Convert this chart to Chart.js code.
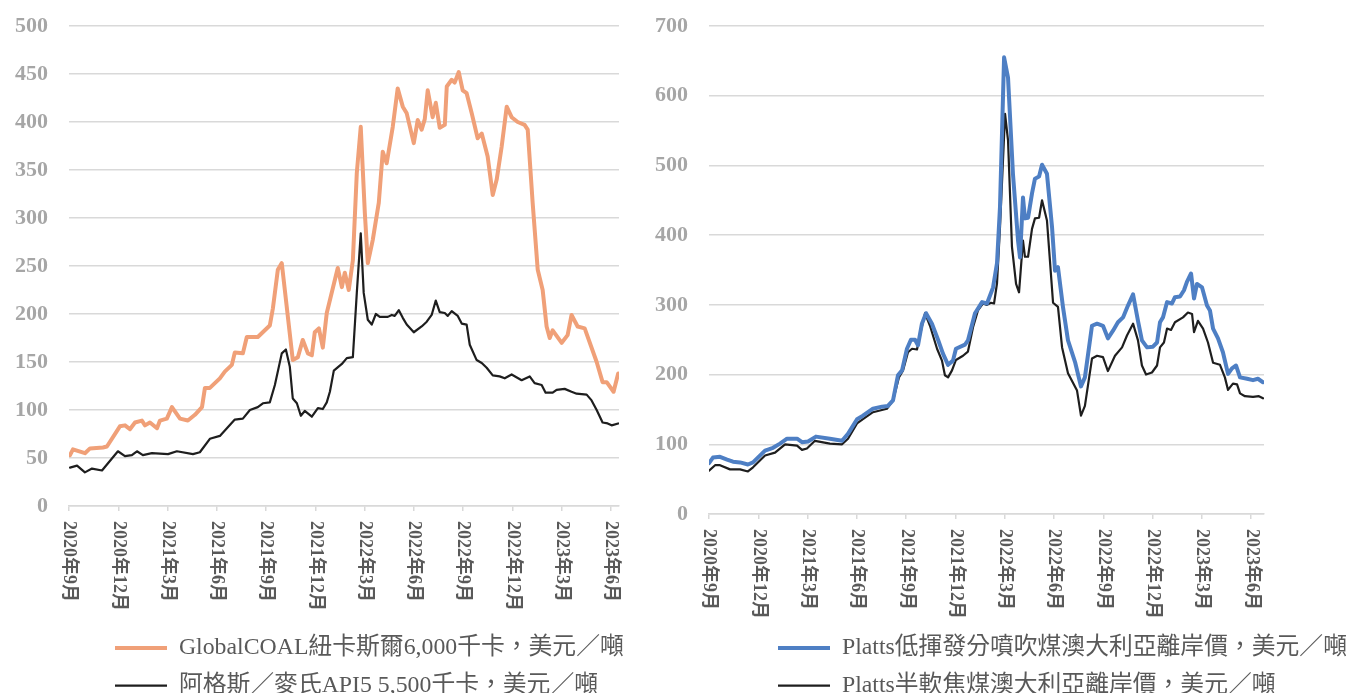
<!DOCTYPE html>
<html><head><meta charset="utf-8">
<script src="https://cdn.jsdelivr.net/npm/chart.js@4.4.1/dist/chart.umd.min.js"></script>
<style>
html,body{margin:0;padding:0;background:#fff;width:1349px;height:693px;overflow:hidden}
#cl{position:absolute;left:0;top:0}
#cr{position:absolute;left:640px;top:0}
</style></head><body>
<canvas id="cl" width="640" height="693"></canvas>
<canvas id="cr" width="709" height="693"></canvas>
<script>
// ---- data (x in months since Sep 2020) ----
const tickLabels = ['2020年9月','2020年12月','2021年3月','2021年6月','2021年9月','2021年12月','2022年3月','2022年6月','2022年9月','2022年12月','2023年3月','2023年6月'];
const tickMonths = [0,3,6,9,12,15,18,21,24,27,30,33];

const newcastleMonths = [0.06,0.24,0.97,1.28,2.07,2.31,3.10,3.41,3.71,4.02,4.44,4.63,4.93,5.36,5.54,5.96,6.27,6.76,7.24,7.67,8.10,8.28,8.58,9.19,9.49,9.92,10.10,10.59,10.83,11.50,12.23,12.42,12.72,12.96,13.63,13.94,14.24,14.55,14.79,14.97,15.22,15.46,15.70,16.37,16.62,16.80,17.04,17.29,17.53,17.77,18.02,18.20,18.50,18.87,19.11,19.35,19.72,20.02,20.33,20.57,21.00,21.24,21.48,21.67,21.85,22.15,22.34,22.58,22.89,23.01,23.31,23.49,23.74,23.98,24.22,24.53,24.89,25.14,25.50,25.81,26.05,26.35,26.66,26.96,27.33,27.75,27.94,28.24,28.55,28.85,29.09,29.28,29.46,30.01,30.37,30.61,30.98,31.41,32.14,32.50,32.75,33.17,33.45];
const newcastlePrices = [53,59,55,60,61,62,83,84,80,87,89,84,87,81,89,91,103,91,89,95,103,123,123,133,140,147,160,159,176,176,188,206,246,253,152,155,173,159,157,181,185,165,201,248,228,243,225,256,347,395,305,253,277,316,369,357,395,435,416,409,378,402,392,403,433,405,420,394,397,437,444,441,452,433,430,409,383,388,364,324,340,374,416,405,400,397,392,316,246,225,187,175,183,170,178,199,187,185,150,129,129,119,138];

const api5Months = [0.06,0.49,0.97,1.40,2.01,2.98,3.41,3.83,4.14,4.50,5.05,6.03,6.57,7.55,7.97,8.58,9.19,10.10,10.59,11.02,11.50,11.81,12.23,12.54,12.96,13.21,13.45,13.63,13.88,14.12,14.36,14.79,15.16,15.46,15.70,15.89,16.13,16.62,16.92,17.29,17.53,17.77,17.95,18.20,18.44,18.69,18.93,19.42,19.66,19.84,20.09,20.33,20.57,21.00,21.48,21.79,22.09,22.34,22.58,22.89,23.07,23.31,23.68,23.92,24.22,24.41,24.83,25.14,25.44,25.81,26.23,26.54,26.96,27.57,28.06,28.36,28.79,29.03,29.46,29.70,30.19,30.61,30.92,31.53,31.83,32.14,32.50,32.81,33.05,33.45];
const api5Prices = [40,42,35,39,37,57,52,53,57,53,55,54,57,54,56,70,73,90,91,100,103,107,108,126,159,163,145,112,107,94,99,93,102,101,108,119,141,148,154,155,222,284,222,194,189,200,197,197,199,198,204,196,189,181,187,192,199,214,202,201,198,203,198,190,189,168,152,149,144,136,135,133,137,131,135,128,126,118,118,121,122,119,117,116,110,100,87,86,84,86];

const pciMonths = [0.00,0.24,0.67,1.10,1.46,1.89,2.37,2.68,3.41,3.90,4.32,4.75,5.36,5.66,6.03,6.51,7.36,8.10,8.46,9.01,9.37,9.98,10.53,10.89,11.20,11.50,11.75,12.05,12.29,12.54,12.72,12.96,13.21,13.57,13.94,14.24,14.55,14.85,15.03,15.58,15.76,16.19,16.62,16.92,17.29,17.53,17.71,17.96,18.20,18.50,18.81,18.93,19.11,19.23,19.42,19.66,19.84,20.09,20.27,20.57,20.88,21.06,21.24,21.55,21.85,22.28,22.64,22.88,23.31,23.62,23.98,24.28,24.59,24.89,25.20,25.50,25.81,26.11,26.35,26.66,27.02,27.27,27.45,27.63,27.88,28.18,28.36,28.67,28.91,29.09,29.34,29.52,29.70,30.01,30.31,30.49,30.68,30.98,31.28,31.59,31.83,32.08,32.32,32.75,33.11,33.41,33.72];
const pciPrices = [73,81,82,78,75,74,71,74,91,95,101,108,108,103,104,111,108,105,115,136,141,151,154,155,163,199,206,237,250,250,242,273,288,273,250,230,214,220,237,243,249,288,304,302,325,360,440,655,626,488,392,368,454,424,425,460,481,484,501,488,411,349,354,296,249,218,183,196,270,273,270,252,263,275,282,299,315,277,249,239,240,246,275,282,304,302,311,312,321,333,345,309,330,325,299,292,266,252,232,201,209,213,196,194,192,194,189];

const semiMonths = [0.00,0.37,0.67,1.28,1.89,2.37,2.68,3.41,4.02,4.63,5.36,5.66,5.96,6.45,7.36,8.10,8.46,9.01,9.37,9.98,10.83,11.20,11.56,11.81,12.11,12.36,12.66,12.90,13.15,13.45,13.88,14.18,14.36,14.55,14.79,15.03,15.46,15.76,16.07,16.37,16.68,16.92,17.16,17.35,17.53,17.71,18.02,18.20,18.44,18.69,18.87,19.11,19.23,19.42,19.66,19.84,20.09,20.27,20.57,20.94,21.24,21.49,21.85,22.40,22.64,22.88,23.31,23.62,23.98,24.28,24.71,25.14,25.44,25.81,26.11,26.35,26.60,26.96,27.27,27.45,27.69,27.88,28.12,28.36,28.85,29.15,29.40,29.52,29.76,30.07,30.37,30.68,31.10,31.40,31.59,31.89,32.14,32.32,32.62,33.11,33.47,33.72];
const semiPrices = [62,70,70,64,64,61,67,84,88,100,98,92,94,105,101,100,108,130,136,146,151,163,196,206,232,237,236,263,288,270,237,220,199,196,206,221,227,233,268,292,302,300,303,302,331,411,574,536,383,330,318,392,369,369,409,424,425,450,421,303,297,239,202,177,141,155,223,227,225,205,227,239,256,273,249,213,200,203,213,239,246,266,264,275,282,289,287,261,277,266,246,217,214,196,178,187,186,173,169,168,169,166];

const leftLabels = ['GlobalCOAL紐卡斯爾6,000千卡，美元／噸','阿格斯／麥氏API5 5,500千卡，美元／噸'];
const rightLabels = ['Platts低揮發分噴吹煤澳大利亞離岸價，美元／噸','Platts半軟焦煤澳大利亞離岸價，美元／噸'];

// ---- rendering ----
const FONT = "'Liberation Serif','Times New Roman','Noto Sans CJK TC',serif";
Chart.defaults.font.family = FONT;

class DownLinear extends Chart.LinearScale {
  _getXAxisLabelAlignment() { return 'left'; }
}
DownLinear.id = 'downLinear';
DownLinear.defaults = {};
Chart.register(DownLinear);

function buildChart(id, series, yMax, yStep, xMax, plotBottom, padRight, legendLeft) {
  return new Chart(document.getElementById(id), {
    type: 'line',
    data: {
      datasets: series.map(s => ({
        label: s.label,
        data: s.months.map((m, i) => ({ x: m, y: s.values[i] })),
        borderColor: s.color, backgroundColor: s.color, borderWidth: s.width,
        pointRadius: 0, pointHoverRadius: 0, tension: 0,
        borderJoinStyle: 'round', borderCapStyle: 'round', fill: false
      }))
    },
    options: {
      responsive: false, animation: false, events: [],
      layout: { padding: { top: 26, left: 0, right: padRight, bottom: 0 } },
      scales: {
        x: {
          type: 'downLinear', min: 0, max: xMax,
          afterBuildTicks: sc => { sc.ticks = tickMonths.map(v => ({ value: v })); },
          afterFit: sc => { sc.height = sc.chart.height - sc.chart.legend.height - plotBottom; },
          ticks: {
            autoSkip: false, minRotation: -90, maxRotation: -90, padding: 10,
            color: '#595959', font: { family: FONT, size: 18, weight: 'bold' },
            callback: v => { const k = tickMonths.indexOf(v); return k >= 0 ? tickLabels[k] : ''; }
          },
          grid: { display: true, drawOnChartArea: false, drawTicks: true, tickLength: 5, color: '#d9d9d9', lineWidth: 1.5 },
          border: { display: true, color: '#d9d9d9', width: 1.5 }
        },
        y: {
          min: 0, max: yMax,
          afterFit: sc => { sc.width = 69; sc.paddingTop = 0; sc.paddingBottom = 0; },
          ticks: { stepSize: yStep, padding: 21, color: '#a6a6a6', font: { family: FONT, size: 22, weight: 'bold' } },
          grid: { color: '#d9d9d9', lineWidth: 1.5, drawTicks: false },
          border: { display: false }
        }
      },
      plugins: {
        legend: {
          position: 'bottom', align: 'start', maxHeight: 60,
          labels: {
            usePointStyle: true, pointStyle: 'line', pointStyleWidth: 52, padding: 14,
            color: '#595959', font: { family: FONT, size: 23.8 }
          }
        },
        tooltip: { enabled: false }
      }
    },
    plugins: [{
      id: 'legendPlace',
      beforeDraw(chart) {
        const lg = chart.legend, p = 14;
        lg.left = legendLeft - p; lg.right = chart.width + 200;
        lg.top = 622; lg.bottom = 693;
        lg.width = lg.right - lg.left; lg.height = lg.bottom - lg.top;
      }
    }]
  });
}

buildChart('cl', [
  { label: leftLabels[0], months: newcastleMonths, values: newcastlePrices, color: '#f0a078', width: 4 },
  { label: leftLabels[1], months: api5Months, values: api5Prices, color: '#1e1e1e', width: 2.2 }
], 500, 50, 33.5, 506, 21, 115);

buildChart('cr', [
  { label: rightLabels[0], months: pciMonths, values: pciPrices, color: '#4e7fc4', width: 4 },
  { label: rightLabels[1], months: semiMonths, values: semiPrices, color: '#1e1e1e', width: 2.2 }
], 700, 100, 33.78, 514, 85, 138);
</script>
</body></html>
